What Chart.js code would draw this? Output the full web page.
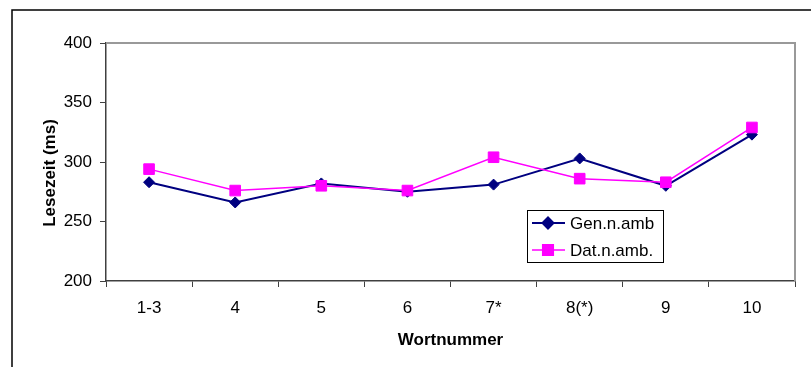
<!DOCTYPE html>
<html>
<head>
<meta charset="utf-8">
<script src="https://cdn.jsdelivr.net/npm/chart.js@4/dist/chart.umd.min.js"></script>
<style>
  html, body { margin: 0; padding: 0; background: #fff; }
  #wrap { width: 811px; height: 367px; position: relative; }
</style>
</head>
<body>
<div id="wrap"><canvas id="chart" width="811" height="367"></canvas></div>
<script>
// word positions on the x axis
const wordLabels = ['1-3', '4', '5', '6', '7*', '8(*)', '9', '10'];
// reading times in ms
const genValues = [283, 266, 282, 275, 281, 303, 280, 323];
const datValues = [294, 276, 280, 276, 304, 286, 283, 329];
const yTicks = [200, 250, 300, 350, 400];

const FONT = 'Arial, "Liberation Sans", sans-serif';

// frame lines: outer chart border and the grey plot-area border (top + right)
const framePlugin = {
  id: 'frame',
  beforeDraw(chart) {
    const ctx = chart.ctx;
    ctx.save();
    ctx.strokeStyle = '#000';
    ctx.lineWidth = 1.5;
    ctx.beginPath();
    ctx.moveTo(12, 367);
    ctx.lineTo(12, 10);
    ctx.lineTo(811, 10);
    ctx.stroke();
    ctx.restore();
  },
  beforeDatasetsDraw(chart) {
    const {ctx, chartArea: a} = chart;
    ctx.save();
    ctx.strokeStyle = '#999';
    ctx.lineWidth = 2;
    ctx.beginPath();
    ctx.moveTo(a.left, a.top);
    ctx.lineTo(a.right, a.top);
    ctx.lineTo(a.right, a.bottom);
    ctx.stroke();
    ctx.restore();
  },
  afterDraw(chart) {
    // y axis title sits a bit below the middle of the axis in the original
    const ctx = chart.ctx;
    ctx.save();
    ctx.translate(50, 173);
    ctx.rotate(-Math.PI / 2);
    ctx.font = 'bold 17px ' + FONT;
    ctx.fillStyle = '#000';
    ctx.textAlign = 'center';
    ctx.textBaseline = 'middle';
    ctx.fillText('Lesezeit (ms)', 0, 0);
    ctx.restore();
  }
};

// legend box sitting inside the plot area
const boxLegend = {
  id: 'boxLegend',
  afterDraw(chart) {
    const ctx = chart.ctx;
    const x = 527, y = 210, w = 136, h = 52;
    ctx.save();
    ctx.fillStyle = '#fff';
    ctx.fillRect(x, y, w, h);
    ctx.strokeStyle = '#000';
    ctx.lineWidth = 1;
    ctx.strokeRect(x + 0.5, y + 0.5, w, h);
    ctx.font = '17px ' + FONT;
    ctx.textBaseline = 'middle';
    chart.data.datasets.forEach((ds, i) => {
      const ly = y + 13 + i * 27;
      ctx.strokeStyle = ds.borderColor;
      ctx.lineWidth = ds.borderWidth;
      ctx.beginPath();
      ctx.moveTo(x + 5, ly);
      ctx.lineTo(x + 38, ly);
      ctx.stroke();
      Chart.helpers.drawPoint(ctx, {
        pointStyle: ds.pointStyle, radius: ds.pointRadius, rotation: 0, borderWidth: 1
      }, x + 21, ly);
      ctx.fillStyle = ds.pointBackgroundColor;
      ctx.fill();
      ctx.fillStyle = '#000';
      ctx.fillText(ds.label, x + 43, ly + 1);
    });
    ctx.restore();
  }
};

new Chart(document.getElementById('chart'), {
  type: 'line',
  data: {
    labels: wordLabels,
    datasets: [
      {
        label: 'Gen.n.amb',
        data: genValues,
        borderColor: '#000080',
        backgroundColor: '#000080',
        pointBackgroundColor: '#000080',
        pointBorderColor: '#000080',
        borderWidth: 2,
        pointStyle: 'rectRot',
        pointRadius: 5.5,
        pointBorderWidth: 1,
        tension: 0,
        order: 1
      },
      {
        label: 'Dat.n.amb.',
        data: datValues,
        borderColor: '#FF00FF',
        backgroundColor: '#FF00FF',
        pointBackgroundColor: '#FF00FF',
        pointBorderColor: '#FF00FF',
        borderWidth: 1.5,
        pointStyle: 'rect',
        pointRadius: 7.5,
        pointBorderWidth: 1,
        tension: 0,
        order: 0
      }
    ]
  },
  options: {
    responsive: false,
    animation: false,
    layout: { padding: { left: 0, top: 43, right: 16, bottom: 0 } },
    plugins: {
      legend: { display: false },
      tooltip: { enabled: false }
    },
    scales: {
      x: {
        offset: true,
        grid: { offset: true, drawOnChartArea: false, drawTicks: true, tickLength: 6, color: '#404040', lineWidth: 1 },
        border: { color: '#404040', width: 1.5 },
        ticks: { color: '#000', font: { family: FONT, size: 17 }, padding: 11, maxRotation: 0 },
        title: { display: true, text: 'Wortnummer', color: '#000', font: { family: FONT, size: 17, weight: 'bold' }, padding: { top: 4, bottom: 16 } },
        afterFit(scale) { scale.height = 86; }
      },
      y: {
        min: 200,
        max: 400,
        afterBuildTicks(scale) { scale.ticks = yTicks.map(v => ({ value: v })); },
        grid: { drawOnChartArea: false, drawTicks: true, tickLength: 6, color: '#404040', lineWidth: 1 },
        border: { color: '#404040', width: 1.5 },
        ticks: { color: '#000', font: { family: FONT, size: 17 }, padding: 8 },
        title: { display: false },
        afterFit(scale) { scale.width = 106; }
      }
    }
  },
  plugins: [framePlugin, boxLegend]
});
</script>
</body>
</html>
